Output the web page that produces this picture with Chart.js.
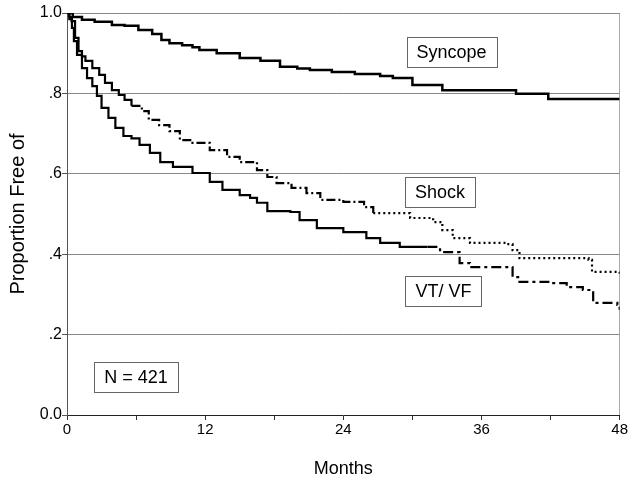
<!DOCTYPE html>
<html>
<head>
<meta charset="utf-8">
<script src="https://cdn.jsdelivr.net/npm/chart.js@4/dist/chart.umd.min.js"></script>
<style>
    html, body { margin: 0; padding: 0; background: #fff; }
    #wrap { width: 629px; height: 480px; }
</style>
</head>
<body>
<div id="wrap"><canvas id="km"></canvas></div>
<script>
// Kaplan-Meier curves, values (months, proportion free)
const syncopeMonths = [0, 0.5, 1.3, 2.4, 3.9, 5.0, 6.2, 7.4, 8.2, 8.9, 10.0, 10.9, 11.5, 13.0, 15.0, 16.8, 18.5, 20.0, 21.1, 23.0, 25.0, 27.2, 28.3, 30.0, 32.6, 39.0, 41.8, 48];
const syncopeValues = [1.0, 0.990, 0.983, 0.978, 0.970, 0.968, 0.958, 0.948, 0.933, 0.925, 0.920, 0.915, 0.908, 0.900, 0.888, 0.881, 0.866, 0.862, 0.858, 0.853, 0.848, 0.843, 0.838, 0.821, 0.808, 0.799, 0.786, 0.786];

const shockMonths = [0, 0.2, 0.4, 0.7, 1.0, 1.3, 1.6, 2.2, 2.8, 3.3, 3.9, 4.5, 5.0, 5.6, 6.5, 7.1, 8.0, 8.9, 9.8, 10.9, 12.4, 13.9, 15.0, 16.5, 17.4, 18.2, 19.5, 20.8, 22.0, 24.0, 25.8, 26.6, 29.8, 31.8, 32.6, 33.5, 35.0, 38.2, 38.7, 39.3, 45.3, 45.6, 48];
const shockValues = [1.0, 0.990, 0.980, 0.938, 0.905, 0.892, 0.881, 0.863, 0.846, 0.826, 0.808, 0.796, 0.784, 0.769, 0.756, 0.734, 0.721, 0.706, 0.684, 0.677, 0.659, 0.642, 0.629, 0.609, 0.592, 0.577, 0.565, 0.552, 0.535, 0.530, 0.517, 0.502, 0.490, 0.480, 0.460, 0.440, 0.428, 0.425, 0.410, 0.390, 0.386, 0.356, 0.350];

const vtvfMonths = [0, 0.2, 0.43, 0.6, 0.87, 1.3, 1.74, 2.2, 2.6, 3.0, 3.6, 4.2, 4.9, 5.6, 6.3, 7.2, 8.1, 9.2, 10.9, 12.4, 13.5, 15.0, 15.9, 16.5, 17.4, 19.4, 20.2, 21.7, 24.0, 26.0, 27.2, 28.9, 31.3, 32.4, 34.1, 35.0, 37.6, 38.7, 39.3, 42.0, 43.4, 44.8, 45.7, 47.8, 48];
const vtvfValues = [1.0, 0.985, 0.963, 0.930, 0.896, 0.863, 0.838, 0.818, 0.794, 0.764, 0.739, 0.714, 0.694, 0.688, 0.672, 0.652, 0.629, 0.617, 0.602, 0.580, 0.560, 0.547, 0.540, 0.528, 0.507, 0.505, 0.485, 0.465, 0.455, 0.440, 0.428, 0.418, 0.418, 0.405, 0.378, 0.368, 0.368, 0.343, 0.331, 0.328, 0.318, 0.311, 0.279, 0.274, 0.262];

const monthTicks = [0, 12, 24, 36, 48];
const yTickLabels = { 0: '0.0', 0.2: '.2', 0.4: '.4', 0.6: '.6', 0.8: '.8', 1: '1.0' };

// boxed labels (text, month, proportion)
const noteTexts = ['Syncope', 'Shock', 'VT/ VF', 'N = 421'];
const noteMonths = [33.4, 32.4, 32.7, 6.0];
const noteValues = [0.903, 0.555, 0.308, 0.095];

function toPoints(xs, ys) {
    return xs.map((x, i) => ({ x: x, y: ys[i] }));
}

const FONT = "'Liberation Sans', Arial, sans-serif";

const notesPlugin = {
    id: 'notes',
    afterDatasetsDraw(chart) {
        const ctx = chart.ctx;
        const xs = chart.scales.x, ys = chart.scales.y;
        ctx.save();
        ctx.font = '18px ' + FONT;
        ctx.textAlign = 'center';
        ctx.textBaseline = 'middle';
        noteTexts.forEach((t, i) => {
            const cx = xs.getPixelForValue(noteMonths[i]);
            const cy = ys.getPixelForValue(noteValues[i]);
            const w = ctx.measureText(t).width + 20;
            const h = 30;
            ctx.fillStyle = '#fff';
            ctx.fillRect(cx - w / 2, cy - h / 2, w, h);
            ctx.strokeStyle = '#666';
            ctx.lineWidth = 1;
            ctx.strokeRect(Math.round(cx - w / 2) + 0.5, Math.round(cy - h / 2) + 0.5, Math.round(w), h);
            ctx.fillStyle = '#000';
            ctx.fillText(t, cx, cy + 1);
        });
        ctx.restore();
    }
};

const shockDash = ctx => {
    const x = ctx.p0.parsed.x;
    if (x >= 26) return [2, 3];
    if (x >= 5.5) return [9, 3, 2, 3];
    return [];
};
const vtvfDash = ctx => (ctx.p0.parsed.x >= 29 ? [10, 4, 3, 4] : []);

new Chart(document.getElementById('km'), {
    type: 'line',
    data: {
        datasets: [
            {
                label: 'Syncope',
                data: toPoints(syncopeMonths, syncopeValues),
                borderColor: '#000',
                borderWidth: 2.5,
                stepped: true,
                pointRadius: 0,
            },
            {
                label: 'Shock',
                data: toPoints(shockMonths, shockValues),
                borderColor: '#000',
                borderWidth: 2.2,
                stepped: true,
                pointRadius: 0,
                segment: { borderDash: shockDash },
            },
            {
                label: 'VT/ VF',
                data: toPoints(vtvfMonths, vtvfValues),
                borderColor: '#000',
                borderWidth: 2.2,
                stepped: true,
                pointRadius: 0,
                segment: { borderDash: vtvfDash },
            },
        ],
    },
    options: {
        responsive: true,
        maintainAspectRatio: false,
        animation: false,
        layout: { padding: { top: 13, right: 0, left: 0, bottom: 0 } },
        plugins: {
            legend: { display: false },
            tooltip: { enabled: false },
        },
        scales: {
            x: {
                type: 'linear',
                min: 0,
                max: 48,
                afterBuildTicks: scale => {
                    scale.ticks = [0, 6, 12, 18, 24, 30, 36, 42, 48].map(v => ({ value: v }));
                },
                afterFit: scale => { scale.height = 65; },
                ticks: {
                    color: '#000',
                    font: { family: FONT, size: 15 },
                    padding: 1,
                    maxRotation: 0,
                    callback: v => (monthTicks.includes(v) ? String(v) : ''),
                },
                grid: {
                    drawOnChartArea: true,
                    color: ctx => (ctx.tick && ctx.tick.value === 48 ? '#aaa' : 'rgba(0,0,0,0)'),
                    tickColor: '#333',
                    tickLength: 5,
                },
                border: { color: '#222', width: 1 },
                title: {
                    display: true,
                    text: 'Months',
                    color: '#000',
                    font: { family: FONT, size: 18 },
                    padding: { top: 0, bottom: 0 },
                },
            },
            y: {
                min: 0,
                max: 1,
                afterBuildTicks: scale => {
                    scale.ticks = [0, 0.2, 0.4, 0.6, 0.8, 1].map(v => ({ value: v }));
                },
                afterFit: scale => { scale.width = 67; },
                ticks: {
                    color: '#000',
                    font: { family: FONT, size: 16 },
                    padding: 0,
                    callback: v => yTickLabels[Math.round(v * 10) / 10],
                },
                grid: {
                    color: ctx => (ctx.tick && ctx.tick.value === 0 ? 'rgba(0,0,0,0)' : '#888'),
                    tickColor: '#555',
                    tickLength: 5,
                },
                border: { color: '#555', width: 1 },
                title: {
                    display: true,
                    text: 'Proportion Free of',
                    color: '#000',
                    font: { family: FONT, size: 20 },
                    padding: { top: 6, bottom: 0 },
                },
            },
        },
    },
    plugins: [notesPlugin],
});
</script>
</body>
</html>
